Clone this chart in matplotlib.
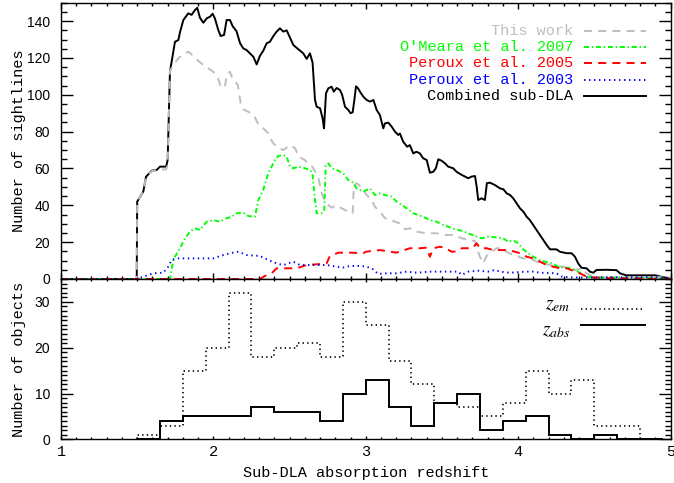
import numpy as np
import matplotlib
matplotlib.use("Agg")
from matplotlib import pyplot as plt
from matplotlib.ticker import MultipleLocator

# ---- top panel: number of sightlines vs redshift ----
z_comb = [1.0, 1.497, 1.50, 1.54, 1.558, 1.595, 1.628, 1.65, 1.69, 1.70, 1.715, 1.748, 1.77, 1.781,
          1.803, 1.835, 1.857, 1.879, 1.894, 1.912, 1.934, 1.956, 1.978, 1.995, 2.01, 2.032, 2.048,
          2.07, 2.087, 2.109, 2.126, 2.152, 2.175, 2.196, 2.218, 2.24, 2.262, 2.284, 2.306, 2.328,
          2.35, 2.371, 2.393, 2.415, 2.437, 2.459, 2.481, 2.503, 2.525, 2.546, 2.568, 2.59, 2.612,
          2.634, 2.651, 2.667, 2.678, 2.70, 2.717, 2.726, 2.739, 2.754, 2.776, 2.79, 2.809, 2.831,
          2.845, 2.864, 2.886, 2.90, 2.914, 2.925, 2.936, 2.95, 2.962, 2.984, 3.006, 3.028, 3.05,
          3.072, 3.093, 3.115, 3.126, 3.148, 3.17, 3.192, 3.213, 3.224, 3.246, 3.272, 3.289, 3.312,
          3.333, 3.355, 3.377, 3.40, 3.421, 3.443, 3.46, 3.476, 3.498, 3.52, 3.541, 3.574, 3.596,
          3.63, 3.652, 3.673, 3.695, 3.717, 3.728, 3.738, 3.76, 3.782, 3.795, 3.815, 3.848, 3.881,
          3.903, 3.925, 3.947, 3.968, 3.99, 4.012, 4.034, 4.056, 4.077, 4.099, 4.121, 4.143, 4.165,
          4.187, 4.209, 4.252, 4.274, 4.318, 4.35, 4.373, 4.394, 4.416, 4.449, 4.471, 4.493, 4.515,
          4.58, 4.646, 4.67, 4.71, 4.90, 4.95, 5.0]
n_comb = [0, 0, 42, 47.4, 55.5, 58.8, 59.2, 61, 61, 64.6, 112.5, 128.8, 129.7, 134,
          140.6, 144.2, 143.4, 146, 147.2, 141.8, 139.1, 141.5, 142.4, 144, 141.5, 135.2, 131.9,
          132.5, 140.6, 140.6, 137.3, 134.5, 128, 125.2, 124.3, 122.5, 120.7, 116.5, 121.2, 124,
          128, 128.8, 131.8, 134.3, 136.1, 134.3, 135, 131, 127, 125.5, 124, 122.5, 119.5,
          122.5, 117.5, 97.2, 93.5, 92.7, 87.2, 81.8, 100.8, 103.5, 104.4, 101.7, 103.7, 102.6,
          100, 93.5, 91.7, 90, 90.5, 97, 104.6, 103.5, 101.7, 99, 97.2, 96.3, 97.2,
          91.7, 89, 81.8, 84.5, 84.9, 82.7, 80, 78.2, 79, 74.5, 71.8, 72.7, 68.2,
          69.1, 68.2, 65.5, 64.6, 57.7, 58.2, 60.1, 65, 64.2, 62.8, 61, 60.1, 58.2,
          56.5, 55.6, 54.7, 55.6, 55.9, 50.1, 42.9, 43.8, 42.9, 52, 52.3, 51, 49.2,
          48.7, 46.5, 45.6, 43.8, 41.1, 38.4, 36.6, 33.8, 32, 29.3, 26.6, 23.9, 21.2,
          18.5, 16.1, 16.1, 14.8, 14, 14, 12.1, 8.5, 6.1, 5.8, 4, 3.4, 4.9,
          5, 4.8, 3, 2, 2, 1, 0.3]

z_this = [1.0, 1.497, 1.50, 1.54, 1.558, 1.595, 1.65, 1.69, 1.70, 1.715, 1.737, 1.77, 1.802, 1.838,
          1.868, 1.90, 1.934, 1.966, 1.999, 2.032, 2.048, 2.076, 2.087, 2.108, 2.13, 2.16, 2.18,
          2.196, 2.229, 2.262, 2.295, 2.328, 2.36, 2.39, 2.42, 2.459, 2.503, 2.536, 2.56, 2.60,
          2.623, 2.645, 2.667, 2.689, 2.711, 2.732, 2.754, 2.776, 2.809, 2.842, 2.875, 2.914, 2.922,
          2.94, 2.97, 3.006, 3.039, 3.06, 3.093, 3.126, 3.159, 3.192, 3.224, 3.257, 3.29, 3.334,
          3.40, 3.465, 3.52, 3.585, 3.63, 3.684, 3.717, 3.728, 3.749, 3.771, 3.793, 3.826, 3.858,
          3.89, 3.924, 3.968, 4.0, 4.033, 4.077, 4.121, 4.165, 4.209, 4.252, 4.296, 4.33, 4.373,
          4.416, 4.449, 4.493, 4.53, 5.0]
n_this = [0, 0, 42, 47.4, 55.5, 58.5, 59.5, 59.5, 62, 113, 116.2, 119.8, 122, 123.4,
          121, 118.5, 116.2, 114.4, 112.5, 108.5, 104.4, 104.2, 111, 112.5, 108, 105.5, 95,
          92.2, 90.8, 89.5, 84, 81.8, 79.1, 74, 71.4, 70, 72.7, 71, 66.4, 64.6,
          62.6, 61.5, 58.5, 55, 46.5, 42.5, 40.2, 38.7, 40, 38.4, 37, 35.7, 51,
          52, 50, 45.6, 42.9, 39.3, 36.5, 33, 32.4, 31.1, 30.2, 27, 27.5, 25.7,
          24.8, 24.8, 23.9, 23.9, 22.1, 21.2, 20.5, 17, 12.1, 8.5, 12.5, 14.8, 16.7,
          16.7, 14.8, 13, 12.1, 11.2, 11.2, 9.4, 8.5, 7.6, 6.7, 6.7, 5.8, 4.9,
          5.8, 3.1, 1.3, 1.0, 1.0]

z_om07 = [1.0, 1.715, 1.737, 1.748, 1.781, 1.814, 1.846, 1.879, 1.912, 1.956, 1.999, 2.043, 2.087,
          2.12, 2.153, 2.196, 2.229, 2.273, 2.295, 2.327, 2.36, 2.382, 2.404, 2.426, 2.459, 2.481,
          2.503, 2.525, 2.557, 2.601, 2.634, 2.65, 2.667, 2.678, 2.711, 2.728, 2.737, 2.754, 2.776,
          2.809, 2.852, 2.885, 2.918, 2.94, 2.984, 3.028, 3.06, 3.093, 3.126, 3.17, 3.203, 3.236,
          3.268, 3.312, 3.345, 3.377, 3.421, 3.465, 3.509, 3.541, 3.585, 3.629, 3.673, 3.728, 3.76,
          3.804, 3.858, 3.902, 3.935, 3.968, 4.0, 4.034, 4.066, 4.099, 4.143, 4.176, 4.22, 4.263,
          4.307, 4.351, 4.384, 4.416, 4.449, 4.49, 4.90, 5.0]
n_om07 = [0, 0, 10.3, 12.1, 16.7, 22.1, 25.7, 27.5, 26.6, 31.1, 32, 31.1, 33,
          33.8, 35.7, 36, 34.2, 33.8, 42.9, 48.3, 57.4, 61, 64.6, 66.8, 67.3, 66.4,
          61, 60.1, 61, 60.1, 59.2, 57.4, 42.9, 35.7, 35.7, 37.5, 61.5, 62.8, 60.1,
          59.2, 57.4, 53.7, 52.3, 49.2, 47.4, 49.2, 45.6, 46.5, 45.6, 44.7, 42, 40.2,
          38.4, 35.7, 34.7, 33.8, 32, 31.1, 29.3, 28.4, 27, 26.2, 24.8, 23, 22.1,
          23, 22.6, 22.1, 20.2, 21, 19.4, 16.1, 14, 12.1, 10.3, 9.4, 8.5, 6.7,
          6.1, 5.8, 4.5, 2.7, 1.3, 0.8, 0.5, 0]

z_pe05 = [1.0, 2.306, 2.35, 2.382, 2.415, 2.47, 2.546, 2.612, 2.70, 2.743, 2.765, 2.82, 2.90, 2.984,
          3.0, 3.093, 3.20, 3.29, 3.355, 3.40, 3.421, 3.443, 3.487, 3.52, 3.563, 3.60, 3.63, 3.70,
          3.728, 3.749, 3.793, 3.836, 3.88, 3.935, 3.979, 4.012, 4.056, 4.099, 4.143, 4.187, 4.23,
          4.274, 4.318, 4.361, 4.405, 4.449, 4.50, 4.60, 5.0]
n_pe05 = [0, 0, 2.2, 3.1, 5.8, 5.8, 5.8, 7.6, 8.1, 8.5, 12.5, 14.3, 14.3, 14,
          14.8, 15.7, 14.3, 16.7, 16.7, 17, 12.1, 16.7, 17.5, 17, 14.8, 15, 16.7, 16.7,
          19.4, 16.7, 16.7, 15.7, 15.7, 15.7, 14.8, 14, 12.1, 11.2, 9.4, 7.6, 6.7,
          5.8, 5.8, 4.5, 3.1, 1.3, 0.8, 0.5, 0]

z_pe03 = [1.0, 1.50, 1.54, 1.606, 1.671, 1.704, 1.726, 1.759, 1.868, 1.999, 2.065, 2.109, 2.164,
          2.219, 2.306, 2.35, 2.415, 2.459, 2.49, 2.525, 2.568, 2.612, 2.70, 2.743, 2.809, 2.852,
          2.896, 2.962, 3.0, 3.04, 3.082, 3.137, 3.20, 3.268, 3.334, 3.421, 3.509, 3.607, 3.63,
          3.673, 3.738, 3.804, 3.848, 3.88, 3.946, 4.056, 4.099, 4.143, 4.252, 4.285, 4.36, 4.90,
          5.0]
n_pe03 = [0, 0, 1.3, 3.1, 3.4, 6.7, 10.3, 11.2, 11.2, 11.2, 13, 14, 14.8,
          13, 12.5, 10.7, 8.5, 7.5, 8.5, 9.4, 7.6, 7.6, 7.6, 7.6, 6.7, 6.2,
          7.1, 7.1, 6.7, 5.8, 2.7, 3.1, 3.1, 4, 3.4, 4, 4, 4, 2.2,
          4, 4.5, 4, 4.9, 4, 3.4, 4, 4, 3.4, 3.1, 1.3, 0.8, 1.0,
          0]

# ---- bottom panel: histograms of emission / absorption redshifts ----
bin_edges = [1.50, 1.65, 1.80, 1.95, 2.10, 2.25, 2.40, 2.55, 2.70, 2.85, 3.00, 3.15, 3.30,
             3.45, 3.60, 3.75, 3.90, 4.05, 4.20, 4.35, 4.50, 4.65, 4.80, 4.95]
n_zem = [1, 3, 15, 20, 32, 18, 20, 21, 18, 30, 25, 17, 12, 8, 7, 5, 8, 15, 10, 13, 3, 3, 0]
n_zabs = [0, 4, 5, 5, 5, 7, 6, 6, 4, 10, 13, 7, 3, 8, 10, 2, 4, 5, 1, 0, 1, 0, 0]

gray = "#bebebe"
green = "#00ff00"
red = "#ff0000"
blue = "#0000ff"

plt.rcParams["font.family"] = "Liberation Mono"
plt.rcParams["lines.scale_dashes"] = False

W, H = 674.0, 483.0
fig = plt.figure(figsize=(6.74, 4.83), dpi=100)
ax1 = fig.add_axes([61 / W, 1 - 279 / H, 609.5 / W, 276.3 / H])
ax2 = fig.add_axes([61 / W, 1 - 439.3 / H, 609.5 / W, 160.3 / H])

dash_gray = (0, (5.8, 4.4))
dash_red = (0, (5.8, 4.4))
dash_green = (0, (3.6, 2.0, 1.0, 2.0))
dot_blue = (0, (1.0, 2.6))
dot_hist = (0, (1.0, 2.3))

ax1.plot(z_comb, n_comb, color="k", lw=1.4)
ax1.plot(z_this, n_this, color=gray, lw=1.4, ls=dash_gray)
ax1.plot(z_om07, n_om07, color=green, lw=1.4, ls=dash_green)
ax1.plot(z_pe05, n_pe05, color=red, lw=1.4, ls=dash_red)
ax1.plot(z_pe03, n_pe03, color=blue, lw=1.4, ls=dot_blue)

# legend drawn by hand, IDL style
leg = [("This work", gray, dash_gray), ("O'Meara et al. 2007", green, dash_green),
       ("Peroux et al. 2005", red, dash_red), ("Peroux et al. 2003", blue, dot_blue),
       ("Combined sub-DLA", "k", "-")]
for i, (lab, col, ls) in enumerate(leg):
    yy = 0.898 - i * 0.0588
    ax1.text(0.840, yy, lab, color=col, ha="right", va="center", fontsize=11,
             transform=ax1.transAxes)
    ax1.plot([0.858, 0.960], [yy, yy], color=col, ls=ls, lw=1.4, transform=ax1.transAxes)

ax1.set_xlim(1, 5)
ax1.set_ylim(0, 150)
ax1.xaxis.set_major_locator(MultipleLocator(1))
ax1.xaxis.set_minor_locator(MultipleLocator(0.1))
ax1.yaxis.set_major_locator(MultipleLocator(20))
ax1.yaxis.set_minor_locator(MultipleLocator(5))
ax1.tick_params(which="both", direction="in", top=True, right=True, labelbottom=False)
ax1.tick_params(axis="x", which="major", length=4.0, width=1.0)
ax1.tick_params(axis="x", which="minor", length=2.0, width=1.0)
ax1.tick_params(axis="y", which="major", length=8.6, width=1.0)
ax1.tick_params(axis="y", which="minor", length=4.3, width=1.0)
ax1.tick_params(axis="y", labelsize=10, pad=8, labelfontfamily="Liberation Sans")
ax1.set_ylabel("Number of sightlines", fontsize=11)
ax1.yaxis.set_label_coords(-0.058, 0.5)

ax2.stairs(n_zem, bin_edges, color="k", lw=1.2, ls=dot_hist)
ax2.stairs(n_zabs, bin_edges, color="k", lw=1.4)
ax2.text(0.835, 0.835, "$z_{em}$", ha="right", va="center", fontsize=14,
         math_fontfamily="stix", transform=ax2.transAxes)
ax2.plot([0.853, 0.955], [0.811, 0.811], color="k", lw=1.2, ls=dot_hist,
         transform=ax2.transAxes)
ax2.text(0.835, 0.675, "$z_{abs}$", ha="right", va="center", fontsize=14,
         math_fontfamily="stix", transform=ax2.transAxes)
ax2.plot([0.853, 0.958], [0.713, 0.713], color="k", lw=1.4, transform=ax2.transAxes)

ax2.set_xlim(1, 5)
ax2.set_ylim(0, 35)
ax2.xaxis.set_major_locator(MultipleLocator(1))
ax2.xaxis.set_minor_locator(MultipleLocator(0.1))
ax2.yaxis.set_major_locator(MultipleLocator(10))
ax2.yaxis.set_minor_locator(MultipleLocator(1))
ax2.tick_params(which="both", direction="in", top=True, right=True)
ax2.tick_params(axis="x", which="major", length=2.4, width=1.0)
ax2.tick_params(axis="x", which="minor", length=1.2, width=1.0)
ax2.tick_params(axis="y", which="major", length=8.6, width=1.0)
ax2.tick_params(axis="y", which="minor", length=4.3, width=1.0)
ax2.tick_params(axis="y", labelsize=10, pad=8, labelfontfamily="Liberation Sans")
ax2.tick_params(axis="x", labelsize=11, pad=4)
ax2.set_ylabel("Number of objects", fontsize=11)
ax2.yaxis.set_label_coords(-0.058, 0.5)
ax2.set_xlabel("Sub-DLA absorption redshift", fontsize=11)
ax2.xaxis.set_label_coords(0.5, -0.165)

for ax in (ax1, ax2):
    for sp in ax.spines.values():
        sp.set_linewidth(1.0)

fig.savefig("out.png", dpi=100)
